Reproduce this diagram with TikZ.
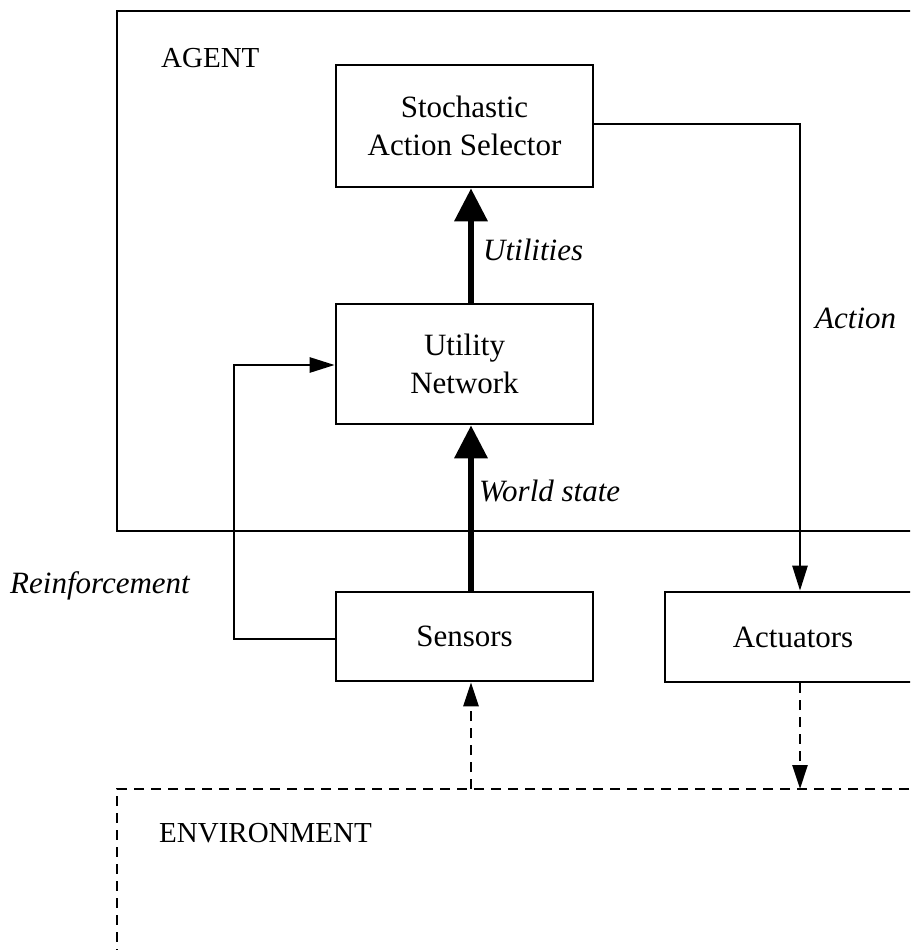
\documentclass[tikz,border=0pt]{standalone}
\usepackage{fontspec}
\setmainfont{Liberation Serif}
\usetikzlibrary{arrows.meta}
\begin{document}
\begin{tikzpicture}[x=1pt,y=-1pt,
  box/.style={draw,line width=2.6pt,minimum width=257pt,align=center,inner sep=0pt,
    font=\fontsize{31}{38}\selectfont},
  lbl/.style={inner sep=0pt,anchor=base west,font=\fontsize{31}{38}\selectfont\itshape},
  title/.style={inner sep=0pt,anchor=base west,font=\fontsize{29}{35}\selectfont},
  thickarrow/.style={line width=6.5pt,-{Triangle[length=33pt,width=32pt]}},
  thinarrow/.style={line width=2.6pt,-{Triangle[length=25pt,width=15pt]}},
  dasharrow/.style={line width=2.6pt,dash pattern=on 10pt off 7pt,-{Triangle[length=24pt,width=15pt]}},
  frame/.style={line width=2.6pt}]
\clip (0,0) rectangle (910,950);
\fill[white] (0,0) rectangle (910,950);
% agent frame
\draw[frame] (117,11) rectangle (960,531);
\node[title] (agent) at (161,67) {AGENT};
% environment frame
\draw[frame,dash pattern=on 10pt off 7pt] (960,789) -- (117,789) -- (117,990);
\coordinate (envs) at (471,789);
\coordinate (enva) at (800,789);
\node[title] (env) at (159,842) {ENVIRONMENT};
% boxes
\node[box,minimum height=122pt] (sas) at (464.5,126) {Stochastic\\Action Selector};
\node[box,minimum height=120pt] (util) at (464.5,364) {Utility\\Network};
\node[box,minimum height=89pt] (sens) at (464.5,636.5) {Sensors};
\node[box,minimum height=90pt,minimum width=256pt] (act) at (793,637) {Actuators};
% thick arrows
\draw[thickarrow] ([xshift=6.5pt]util.north) -- ([xshift=6.5pt]sas.south);
\draw[thickarrow] ([xshift=6.5pt]sens.north) -- ([xshift=6.5pt]util.south);
\node[lbl] (lutil) at (483,260) {Utilities};
\node[lbl] (lworld) at (479,501) {World state};
% action
\draw[thinarrow] (sas.east |- 0,124) -- (800,124) -- (act.north -| 800,0);
\node[lbl] (lact) at (815,328) {Action};
% reinforcement
\draw[thinarrow] (sens.west |- 0,639) -- (234,639) -- (234,365) -- (util.west |- 0,365);
\node[lbl] (lrein) at (10,593) {Reinforcement};
% dashed arrows
\draw[dasharrow] (envs) -- (sens.south -| envs);
\draw[dasharrow] (act.south -| enva) -- (enva);
\end{tikzpicture}
\end{document}
